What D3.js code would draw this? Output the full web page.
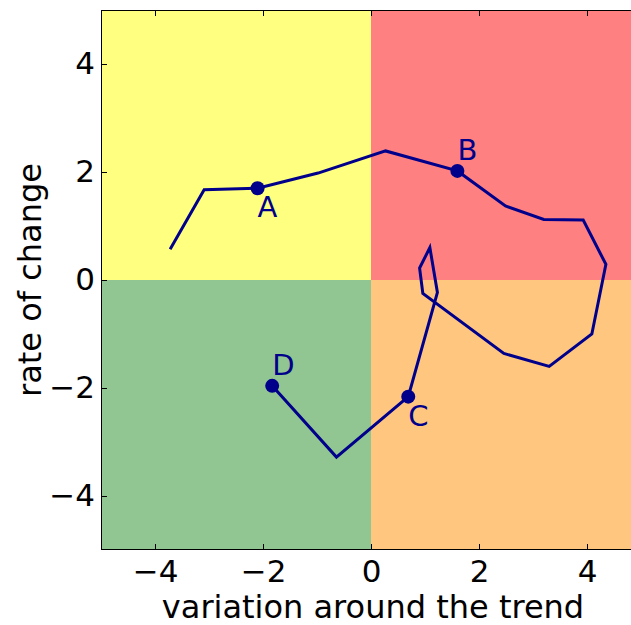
<!DOCTYPE html>
<html>
<head>
<meta charset="utf-8">
<script src="https://cdn.jsdelivr.net/npm/d3@7"></script>
<style>
  html, body { margin: 0; padding: 0; background: #fff; }
  svg { display: block; font-family: "DejaVu Sans", sans-serif; }
</style>
</head>
<body>
<svg id="svg" width="631" height="625"></svg>
<script>
(function() {
  'use strict';

  // trajectory
  var xs = [-3.72, -3.09, -2.10, -0.98, 0.27, 1.60, 2.49, 3.20, 3.93, 4.35,
            4.09, 3.30, 2.46, 0.96, 0.90, 1.09, 1.23, 0.69, -0.64, -1.83];
  var ys = [0.57, 1.67, 1.70, 1.98, 2.39, 2.02, 1.37, 1.12, 1.11, 0.29,
            -1.00, -1.60, -1.36, -0.25, 0.22, 0.60, -0.23, -2.16, -3.28, -1.96];

  // marked points
  var labels = ['A', 'B', 'C', 'D'];
  var labelIndex = [2, 5, 17, 19];
  var labelSide = ['below', 'above', 'below', 'above'];

  // quadrants: [x0, x1, y0, y1]
  var quadrants = [[-5, 0, 0, 5], [0, 5, 0, 5], [-5, 0, -5, 0], [0, 5, -5, 0]];
  var quadrantColors = ['#ffff80', '#ff8080', '#91c591', '#ffc680'];

  var xTicks = [-4, -2, 0, 2, 4];
  var yTicks = [-4, -2, 0, 2, 4];

  var data = xs.map(function(x, i) { return { x: x, y: ys[i] }; });

  var svg = d3.select('#svg');

  var left = 101, top = 10, bottom = 550, right = 641;
  var x = d3.scaleLinear().domain([-5, 5]).range([left, right]);
  var y = d3.scaleLinear().domain([-5, 5]).range([bottom, top]);

  var g = svg.append('g');

  g.selectAll('rect.q')
    .data(quadrants)
    .enter().append('rect')
    .attr('class', 'q')
    .attr('x', function(d) { return x(d[0]); })
    .attr('y', function(d) { return y(d[3]); })
    .attr('width', function(d) { return x(d[1]) - x(d[0]); })
    .attr('height', function(d) { return y(d[2]) - y(d[3]); })
    .attr('fill', function(d, i) { return quadrantColors[i]; });

  var fmt = function(d) { return d3.format('d')(d); };
  var fontSize = 31;

  function styleAxis(sel) {
    sel.select('.domain').remove();
    sel.selectAll('.tick line').attr('stroke', '#000').attr('stroke-width', 1);
    sel.selectAll('.tick text')
      .attr('font-size', fontSize)
      .attr('font-family', '"DejaVu Sans", sans-serif')
      .attr('fill', '#000');
  }

  g.append('g')
    .attr('transform', 'translate(0,' + bottom + ')')
    .call(d3.axisBottom(x).tickValues(xTicks).tickFormat(fmt).tickSize(-6).tickPadding(10))
    .call(styleAxis);

  g.append('g')
    .attr('transform', 'translate(0,' + top + ')')
    .call(d3.axisTop(x).tickValues(xTicks).tickFormat('').tickSize(-6))
    .call(styleAxis);

  g.append('g')
    .attr('transform', 'translate(' + left + ',0)')
    .call(d3.axisLeft(y).tickValues(yTicks).tickFormat(fmt).tickSize(-6).tickPadding(6))
    .call(styleAxis);

  // frame
  g.append('rect')
    .attr('x', left + 0.5)
    .attr('y', top + 0.5)
    .attr('width', right - left)
    .attr('height', bottom - top - 1)
    .attr('fill', 'none')
    .attr('stroke', '#000')
    .attr('stroke-width', 1);

  var line = d3.line()
    .x(function(d) { return x(d.x); })
    .y(function(d) { return y(d.y); });

  g.append('path')
    .attr('d', line(data))
    .attr('fill', 'none')
    .attr('stroke', '#00008b')
    .attr('stroke-width', 3)
    .attr('stroke-linejoin', 'miter');

  var marks = labelIndex.map(function(k, i) {
    return { p: data[k], name: labels[i], side: labelSide[i] };
  });

  g.selectAll('circle.m')
    .data(marks)
    .enter().append('circle')
    .attr('class', 'm')
    .attr('cx', function(d) { return x(d.p.x); })
    .attr('cy', function(d) { return y(d.p.y); })
    .attr('r', 7)
    .attr('fill', '#00008b');

  g.selectAll('text.m')
    .data(marks)
    .enter().append('text')
    .attr('class', 'm')
    .attr('x', function(d) { return x(d.p.x); })
    .attr('y', function(d) { return y(d.p.y) + (d.side === 'below' ? 29 : -11); })
    .attr('font-size', fontSize - 2)
    .attr('fill', '#00008b')
    .text(function(d) { return d.name; });

  svg.append('text')
    .attr('x', 373)
    .attr('y', 618)
    .attr('text-anchor', 'middle')
    .attr('font-size', 32)
    .text('variation around the trend');

  svg.append('text')
    .attr('transform', 'translate(41,' + ((top + bottom) / 2) + ') rotate(-90)')
    .attr('text-anchor', 'middle')
    .attr('font-size', 32)
    .text('rate of change');
}());
</script>
</body>
</html>
